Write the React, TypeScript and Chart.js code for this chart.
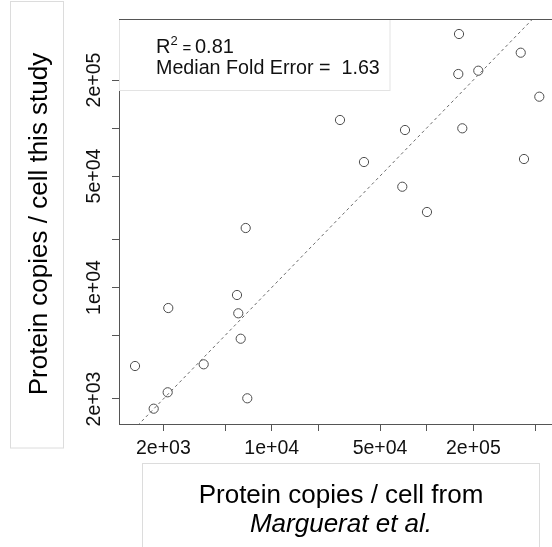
import React, { useEffect, useRef } from 'react';
import { Chart, registerables } from 'chart.js';

Chart.register(...registerables);

// Protein copies / cell from Marguerat et al. (x) vs this study (y)
const marguerat = [
  161600, 159900, 215200, 404200, 532700, 27580, 72440, 169700, 39390, 424300, 69590,
  100400, 6797, 5972, 2152, 6088, 6310, 1313, 3641, 2133, 1733, 6959,
];
const thisStudy = [
  388600, 218100, 228800, 296700, 157200, 112300, 97160, 99580, 61220, 63930, 42850,
  29750, 23610, 8976, 7437, 6891, 4775, 3220, 3300, 2203, 1739, 2020,
];
const identityLine = [1000, 1000000];
const tickValues = [2000, 5000, 10000, 20000, 50000, 100000, 200000, 500000];
const labeledTicks: Record<number, string> = {
  2000: '2e+03',
  10000: '1e+04',
  50000: '5e+04',
  200000: '2e+05',
};
const xRange = [1035, 643200];
const yRange = [1394, 482600];
const r2Value = '0.81';
const medianFoldError = '1.63';
const xTitleLines = ['Protein copies / cell from', 'Marguerat et al.'];
const yTitle = 'Protein copies / cell this study';

const FONT = '"Liberation Sans", Arial, Helvetica, sans-serif';

const decorPlugin = {
  id: 'decor',
  afterDraw(chart: any) {
    const { ctx, chartArea: ca, scales } = chart;
    ctx.save();
    // legend box
    ctx.fillStyle = '#ffffff';
    ctx.fillRect(ca.left + 1, ca.top + 1, 270, 70);
    ctx.strokeStyle = '#e3e3e3';
    ctx.lineWidth = 1;
    ctx.strokeRect(ca.left + 0.5, ca.top + 0.5, 270.5, 71);
    // top border of plot box
    ctx.strokeStyle = '#555555';
    ctx.beginPath();
    ctx.moveTo(ca.left, ca.top + 0.5);
    ctx.lineTo(ca.right, ca.top + 0.5);
    ctx.stroke();

    ctx.fillStyle = '#111111';
    ctx.textBaseline = 'alphabetic';
    // legend text
    ctx.textAlign = 'left';
    ctx.font = `20px ${FONT}`;
    ctx.fillText('R', 156, 53);
    ctx.font = `13px ${FONT}`;
    ctx.fillText('2', 170.5, 45);
    ctx.font = `15px ${FONT}`;
    ctx.fillText('=', 182.5, 53);
    ctx.font = `20px ${FONT}`;
    ctx.fillText(r2Value, 195, 53);
    ctx.font = `19.7px ${FONT}`;
    ctx.fillText('Median Fold Error =  ' + medianFoldError, 156, 74.3);

    // tick labels
    ctx.font = `19.5px ${FONT}`;
    ctx.textAlign = 'center';
    const xs = scales.x;
    const ys = scales.y;
    tickValues.forEach((v) => {
      const lab = labeledTicks[v];
      if (!lab) return;
      const px = xs.getPixelForValue(v);
      if (px >= ca.left - 1 && px <= ca.right + 1) ctx.fillText(lab, px, 454);
      const py = ys.getPixelForValue(v);
      if (py >= ca.top - 1 && py <= ca.bottom + 1) {
        ctx.save();
        ctx.translate(99.5, py);
        ctx.rotate(-Math.PI / 2);
        ctx.fillText(lab, 0, 0);
        ctx.restore();
      }
    });

    // title boxes
    ctx.strokeStyle = '#dcdcdc';
    ctx.strokeRect(10.5, 1.5, 53, 446.5);
    ctx.strokeRect(142.5, 463.5, 397, 120);

    // titles
    ctx.fillStyle = '#000000';
    ctx.font = `26px ${FONT}`;
    ctx.fillText(xTitleLines[0], 341, 503);
    ctx.font = `italic 26px ${FONT}`;
    ctx.fillText(xTitleLines[1], 341, 532);
    ctx.font = `26px ${FONT}`;
    ctx.save();
    ctx.translate(47, 224);
    ctx.rotate(-Math.PI / 2);
    ctx.fillText(yTitle, 0, 0);
    ctx.restore();
    ctx.restore();
  },
};

export default function App() {
  const ref = useRef<HTMLCanvasElement | null>(null);
  useEffect(() => {
    if (!ref.current) return;
    const points = marguerat.map((x, i) => ({ x, y: thisStudy[i] }));
    const axisCommon = {
      type: 'logarithmic' as const,
      afterBuildTicks: (scale: any) => {
        scale.ticks = tickValues
          .filter((v) => v >= scale.min && v <= scale.max)
          .map((v) => ({ value: v }));
      },
      ticks: { display: false },
      grid: {
        display: true,
        drawOnChartArea: false,
        drawTicks: true,
        tickLength: 7,
        color: '#555555',
        lineWidth: 1,
      },
      border: { display: true, color: '#555555', width: 1 },
    };
    const chart = new Chart(ref.current, {
      type: 'scatter',
      data: {
        datasets: [
          {
            type: 'line',
            data: identityLine.map((v) => ({ x: v, y: v })),
            borderColor: '#6a6a6a',
            borderWidth: 1,
            borderDash: [3, 3],
            pointRadius: 0,
            fill: false,
          } as any,
          {
            data: points,
            pointStyle: 'circle',
            pointRadius: 4.6,
            borderWidth: 1,
            borderColor: '#4d4d4d',
            backgroundColor: 'rgba(0,0,0,0)',
          },
        ],
      },
      options: {
        responsive: false,
        animation: false,
        devicePixelRatio: 1,
        layout: { autoPadding: false, padding: { top: 19, left: 0, right: 0, bottom: 0 } },
        plugins: { legend: { display: false }, tooltip: { enabled: false } },
        scales: {
          x: {
            ...axisCommon,
            position: 'bottom',
            min: xRange[0],
            max: xRange[1],
            afterFit: (s: any) => {
              s.height = 123;
            },
          },
          y: {
            ...axisCommon,
            position: 'left',
            min: yRange[0],
            max: yRange[1],
            afterFit: (s: any) => {
              s.width = 119;
            },
          },
        } as any,
      },
      plugins: [decorPlugin],
    });
    return () => chart.destroy();
  }, []);
  return (
    <div style={{ position: 'fixed', left: 0, top: 0, width: 552, height: 547, background: '#fff' }}>
      <canvas ref={ref} width={552} height={547} />
    </div>
  );
}
